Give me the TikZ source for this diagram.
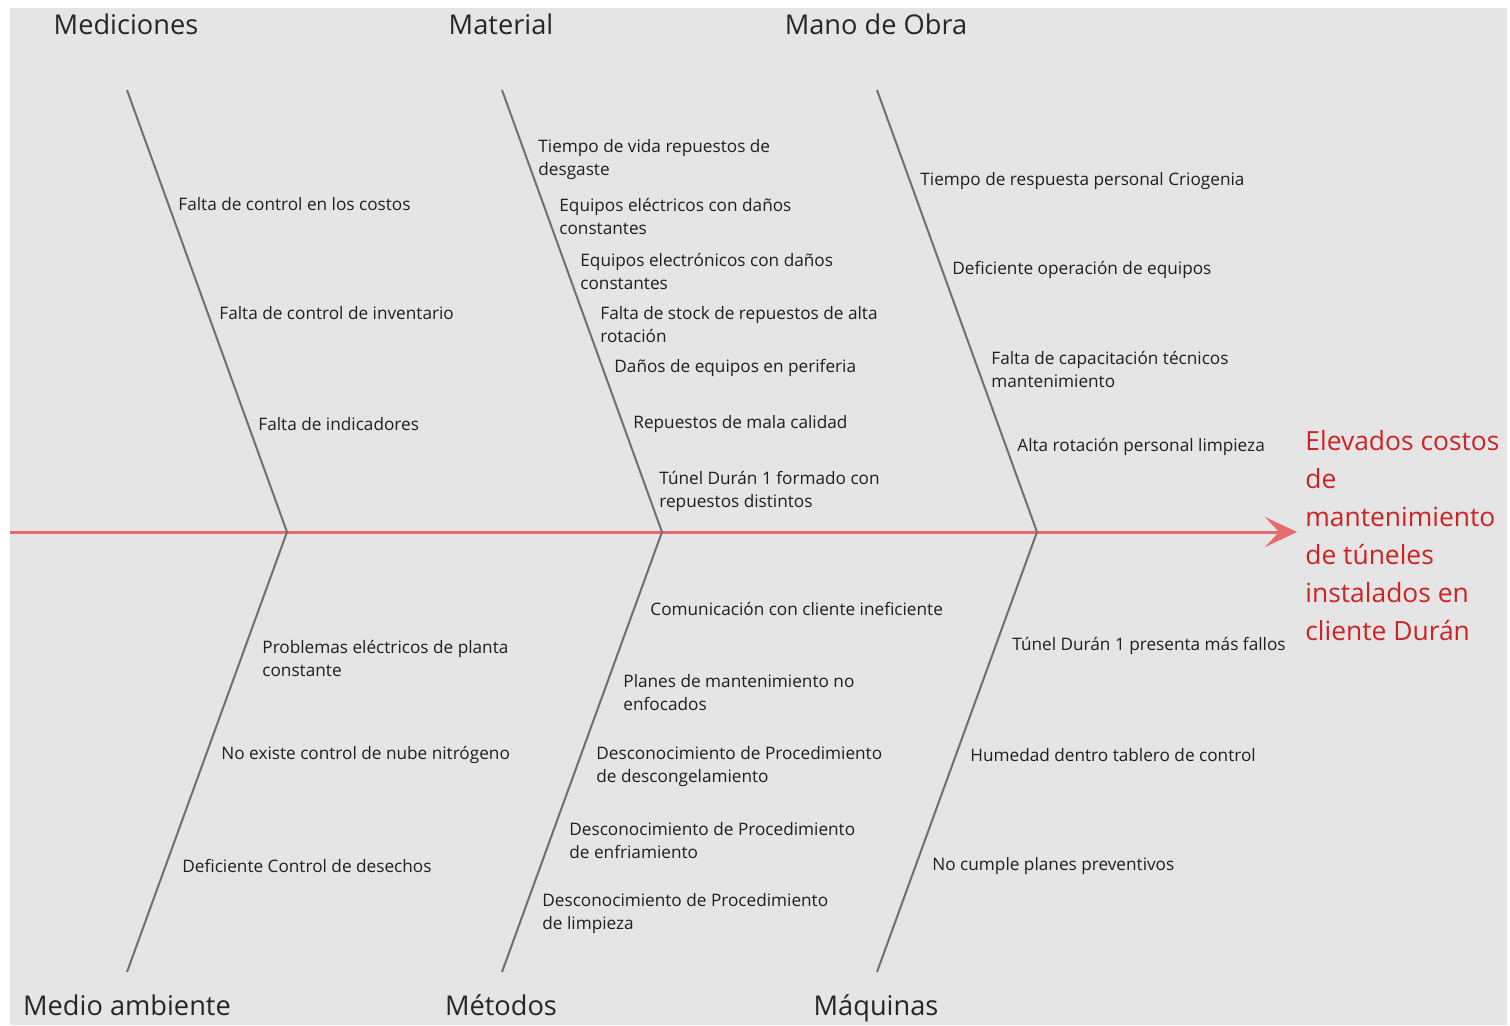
\documentclass[tikz,border=0pt]{standalone}
\usepackage{fontspec}
\setmainfont{Open Sans}
\usetikzlibrary{arrows.meta}

\definecolor{fondo}{RGB}{229,229,229}
\definecolor{espina}{RGB}{228,108,108}
\definecolor{hueso}{RGB}{112,112,112}
\definecolor{efecto}{RGB}{205,35,35}

\tikzset{
  causa/.style={anchor=west, align=left, inner sep=0pt, text=black!88,
    font=\fontsize{8.6}{11.5}\selectfont},
  categoria/.style={anchor=base, inner sep=0pt, text=black!85, font=\fontsize{13.6}{15}\selectfont},
  linea hueso/.style={draw=hueso, line width=1pt},
}

\begin{document}
\begin{tikzpicture}[x=0.5pt,y=-0.5pt]
  \useasboundingbox (0,0) rectangle (1510,1025);
  \fill[white] (0,0) rectangle (1510,1025);
  \fill[fondo] (10,8) rectangle (1507,1025);

  % efecto y espina
  \node[anchor=west, align=left, inner sep=0pt, text=efecto,
        font=\fontsize{13.2}{19}\selectfont] (efecto) at (1305,536)
    {Elevados costos\\de\\mantenimiento\\de túneles\\instalados en\\cliente Durán};
  \coordinate (cola) at (10,532);
  \coordinate (punta) at (1297,532);
  \draw[espina, line width=1.5pt, -{Stealth[length=16pt,width=15pt,inset=7pt]}] (cola) -- (punta);

  % huesos
  \foreach \i/\x in {1/287,2/662,3/1037} {
    \coordinate (union\i) at (\x,532);
    \coordinate (arriba\i) at (\x-160,90);
    \coordinate (abajo\i) at (\x-160,972);
    \draw[linea hueso] (arriba\i) -- (union\i) -- (abajo\i);
  }

  % categorias
  \foreach \x/\nombre [count=\i] in {126/Mediciones,501/Material,876/{Mano de Obra}}
    \node[categoria] (cat-arriba-\i) at (\x,34) {\nombre};
  \foreach \x/\nombre [count=\i] in {127/{Medio ambiente},501/Métodos,876/Máquinas}
    \node[categoria] (cat-abajo-\i) at (\x,1015) {\nombre};

  % causas
  \foreach \x/\y/\texto [count=\i] in {
    178/204/{Falta de control en los costos},
    219/313/{Falta de control de inventario},
    258/424/{Falta de indicadores}}
    \node[causa] (med-\i) at (\x,\y) {\texto};
  \foreach \x/\y/\texto [count=\i] in {
    538/160/{Tiempo de vida repuestos de\\desgaste},
    559/216/{Equipos eléctricos con daños\\constantes},
    580/271/{Equipos electrónicos con daños\\constantes},
    600/325/{Falta de stock de repuestos de alta\\rotación},
    614/368/{Daños de equipos en periferia},
    633/424/{Repuestos de mala calidad},
    659/491/{Túnel Durán 1 formado con\\repuestos distintos}}
    \node[causa] (mat-\i) at (\x,\y) {\texto};
  \foreach \x/\y/\texto [count=\i] in {
    920/181/{Tiempo de respuesta personal Criogenia},
    952/270/{Deficiente operación de equipos},
    991/369/{Falta de capacitación técnicos\\mantenimiento},
    1017/447/{Alta rotación personal limpieza}}
    \node[causa] (obra-\i) at (\x,\y) {\texto};
  \foreach \x/\y/\texto [count=\i] in {
    262/658/{Problemas eléctricos de planta\\constante},
    221/755/{No existe control de nube nitrógeno},
    182/866/{Deficiente Control de desechos}}
    \node[causa] (amb-\i) at (\x,\y) {\texto};
  \foreach \x/\y/\texto [count=\i] in {
    650/609/{Comunicación con cliente ineficiente},
    623/693/{Planes de mantenimiento no\\enfocados},
    596/767/{Desconocimiento de Procedimiento\\de descongelamiento},
    569/841/{Desconocimiento de Procedimiento\\de enfriamiento},
    542/914/{Desconocimiento de Procedimiento\\de limpieza}}
    \node[causa] (met-\i) at (\x,\y) {\texto};
  \foreach \x/\y/\texto [count=\i] in {
    1012/646/{Túnel Durán 1 presenta más fallos},
    970/755/{Humedad dentro tablero de control},
    932/866/{No cumple planes preventivos}}
    \node[causa] (maq-\i) at (\x,\y) {\texto};
\end{tikzpicture}
\end{document}
